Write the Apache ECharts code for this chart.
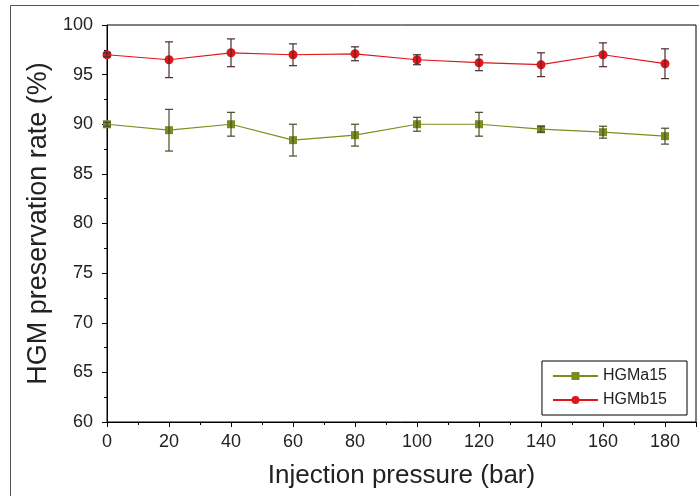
<!DOCTYPE html>
<html>
<head>
<meta charset="utf-8">
<script src="https://cdn.jsdelivr.net/npm/echarts@6/dist/echarts.min.js"></script>
<style>html,body{margin:0;padding:0;background:#fff}#c{width:699px;height:496px}</style>
</head>
<body>
<div id="c"></div>
<script>
var pressures = [0, 20, 40, 60, 80, 100, 120, 140, 160, 180];
var a15 = [90.0, 89.4, 90.0, 88.4, 88.9, 90.0, 90.0, 89.5, 89.2, 88.8];
var a15Err = [0.2, 2.1, 1.2, 1.6, 1.1, 0.7, 1.2, 0.3, 0.6, 0.8];
var b15 = [97.0, 96.5, 97.2, 97.0, 97.1, 96.5, 96.2, 96.0, 97.0, 96.1];
var b15Err = [0.2, 1.8, 1.4, 1.1, 0.7, 0.5, 0.8, 1.2, 1.2, 1.5];
var yTicks = [60, 65, 70, 75, 80, 85, 90, 95, 100];
var xTicks = [0, 20, 40, 60, 80, 100, 120, 140, 160, 180];

var green = '#7e8c1f', red = '#e0161c';
var font = 'Liberation Sans, Arial, sans-serif';

function pts(v) { return pressures.map(function (x, i) { return [x, v[i]]; }); }
function errs(v, e) { return pressures.map(function (x, i) { return [x, v[i] - e[i], v[i] + e[i]]; }); }

function errRender(color) {
  return function (params, api) {
    var lo = api.coord([api.value(0), api.value(1)]);
    var hi = api.coord([api.value(0), api.value(2)]);
    var w = 4;
    var st = { stroke: color, lineWidth: 1.2 };
    return {
      type: 'group',
      children: [
        { type: 'line', shape: { x1: lo[0], y1: lo[1], x2: hi[0], y2: hi[1] }, style: st },
        { type: 'line', shape: { x1: lo[0] - w, y1: lo[1], x2: lo[0] + w, y2: lo[1] }, style: st },
        { type: 'line', shape: { x1: hi[0] - w, y1: hi[1], x2: hi[0] + w, y2: hi[1] }, style: st }
      ]
    };
  };
}

var chart = echarts.init(document.getElementById('c'));
chart.setOption({
  animation: false,
  backgroundColor: '#fff',
  graphic: [{
    type: 'rect', shape: { x: 10.5, y: 5.5, width: 720, height: 520 },
    style: { fill: 'none', stroke: '#555', lineWidth: 1 }, silent: true
  }],
  grid: { left: 107, top: 25, right: 3, bottom: 74, show: true, borderColor: '#000', borderWidth: 1 },
  legend: {
    right: 12, bottom: 81, orient: 'vertical',
    borderColor: '#000', borderWidth: 1, padding: [7, 20, 7, 10],
    itemWidth: 45, itemHeight: 10, itemGap: 8,
    textStyle: { fontFamily: font, fontSize: 16, color: '#222' },
    data: ['HGMa15', 'HGMb15']
  },
  xAxis: {
    type: 'value', min: 0, max: 190, interval: 20,
    name: 'Injection pressure (bar)', nameLocation: 'middle', nameGap: 41,
    nameTextStyle: { fontFamily: font, fontSize: 26, color: '#222' },
    axisLine: { lineStyle: { color: '#000', width: 1 } },
    axisTick: { show: true, inside: false, length: 5, lineStyle: { color: '#000' } },
    minorTick: { show: true, splitNumber: 2, length: 3, lineStyle: { color: '#000' } },
    axisLabel: { fontFamily: font, fontSize: 18, color: '#222', margin: 11,
      formatter: function (v) { return xTicks.indexOf(v) >= 0 ? String(v) : ''; } },
    splitLine: { show: false }
  },
  yAxis: {
    type: 'value', min: 60, max: 100, interval: 5,
    name: 'HGM preservation rate (%)', nameLocation: 'middle', nameGap: 54,
    nameTextStyle: { fontFamily: font, fontSize: 27, color: '#222' },
    axisLine: { show: true, lineStyle: { color: '#000', width: 1 } },
    axisTick: { show: true, inside: false, length: 5, lineStyle: { color: '#000' } },
    minorTick: { show: true, splitNumber: 2, length: 3, lineStyle: { color: '#000' } },
    axisLabel: { fontFamily: font, fontSize: 18, color: '#222', margin: 14,
      formatter: function (v) { return yTicks.indexOf(v) >= 0 ? String(v) : ''; } },
    splitLine: { show: false }
  },
  series: [
    { name: 'HGMa15', type: 'line', data: pts(a15), symbol: 'rect', symbolSize: 8,
      itemStyle: { color: green }, lineStyle: { color: green, width: 1.2 }, z: 3 },
    { name: 'HGMb15', type: 'line', data: pts(b15), symbol: 'circle', symbolSize: 9,
      itemStyle: { color: red }, lineStyle: { color: red, width: 1.2 }, z: 3 },
    { name: 'errA', type: 'custom', data: errs(a15, a15Err), renderItem: errRender('#4a4a2a'),
      encode: { x: 0, y: [1, 2] }, z: 4, silent: true },
    { name: 'errB', type: 'custom', data: errs(b15, b15Err), renderItem: errRender('#4a2a2a'),
      encode: { x: 0, y: [1, 2] }, z: 4, silent: true }
  ]
});
</script>
</body>
</html>
